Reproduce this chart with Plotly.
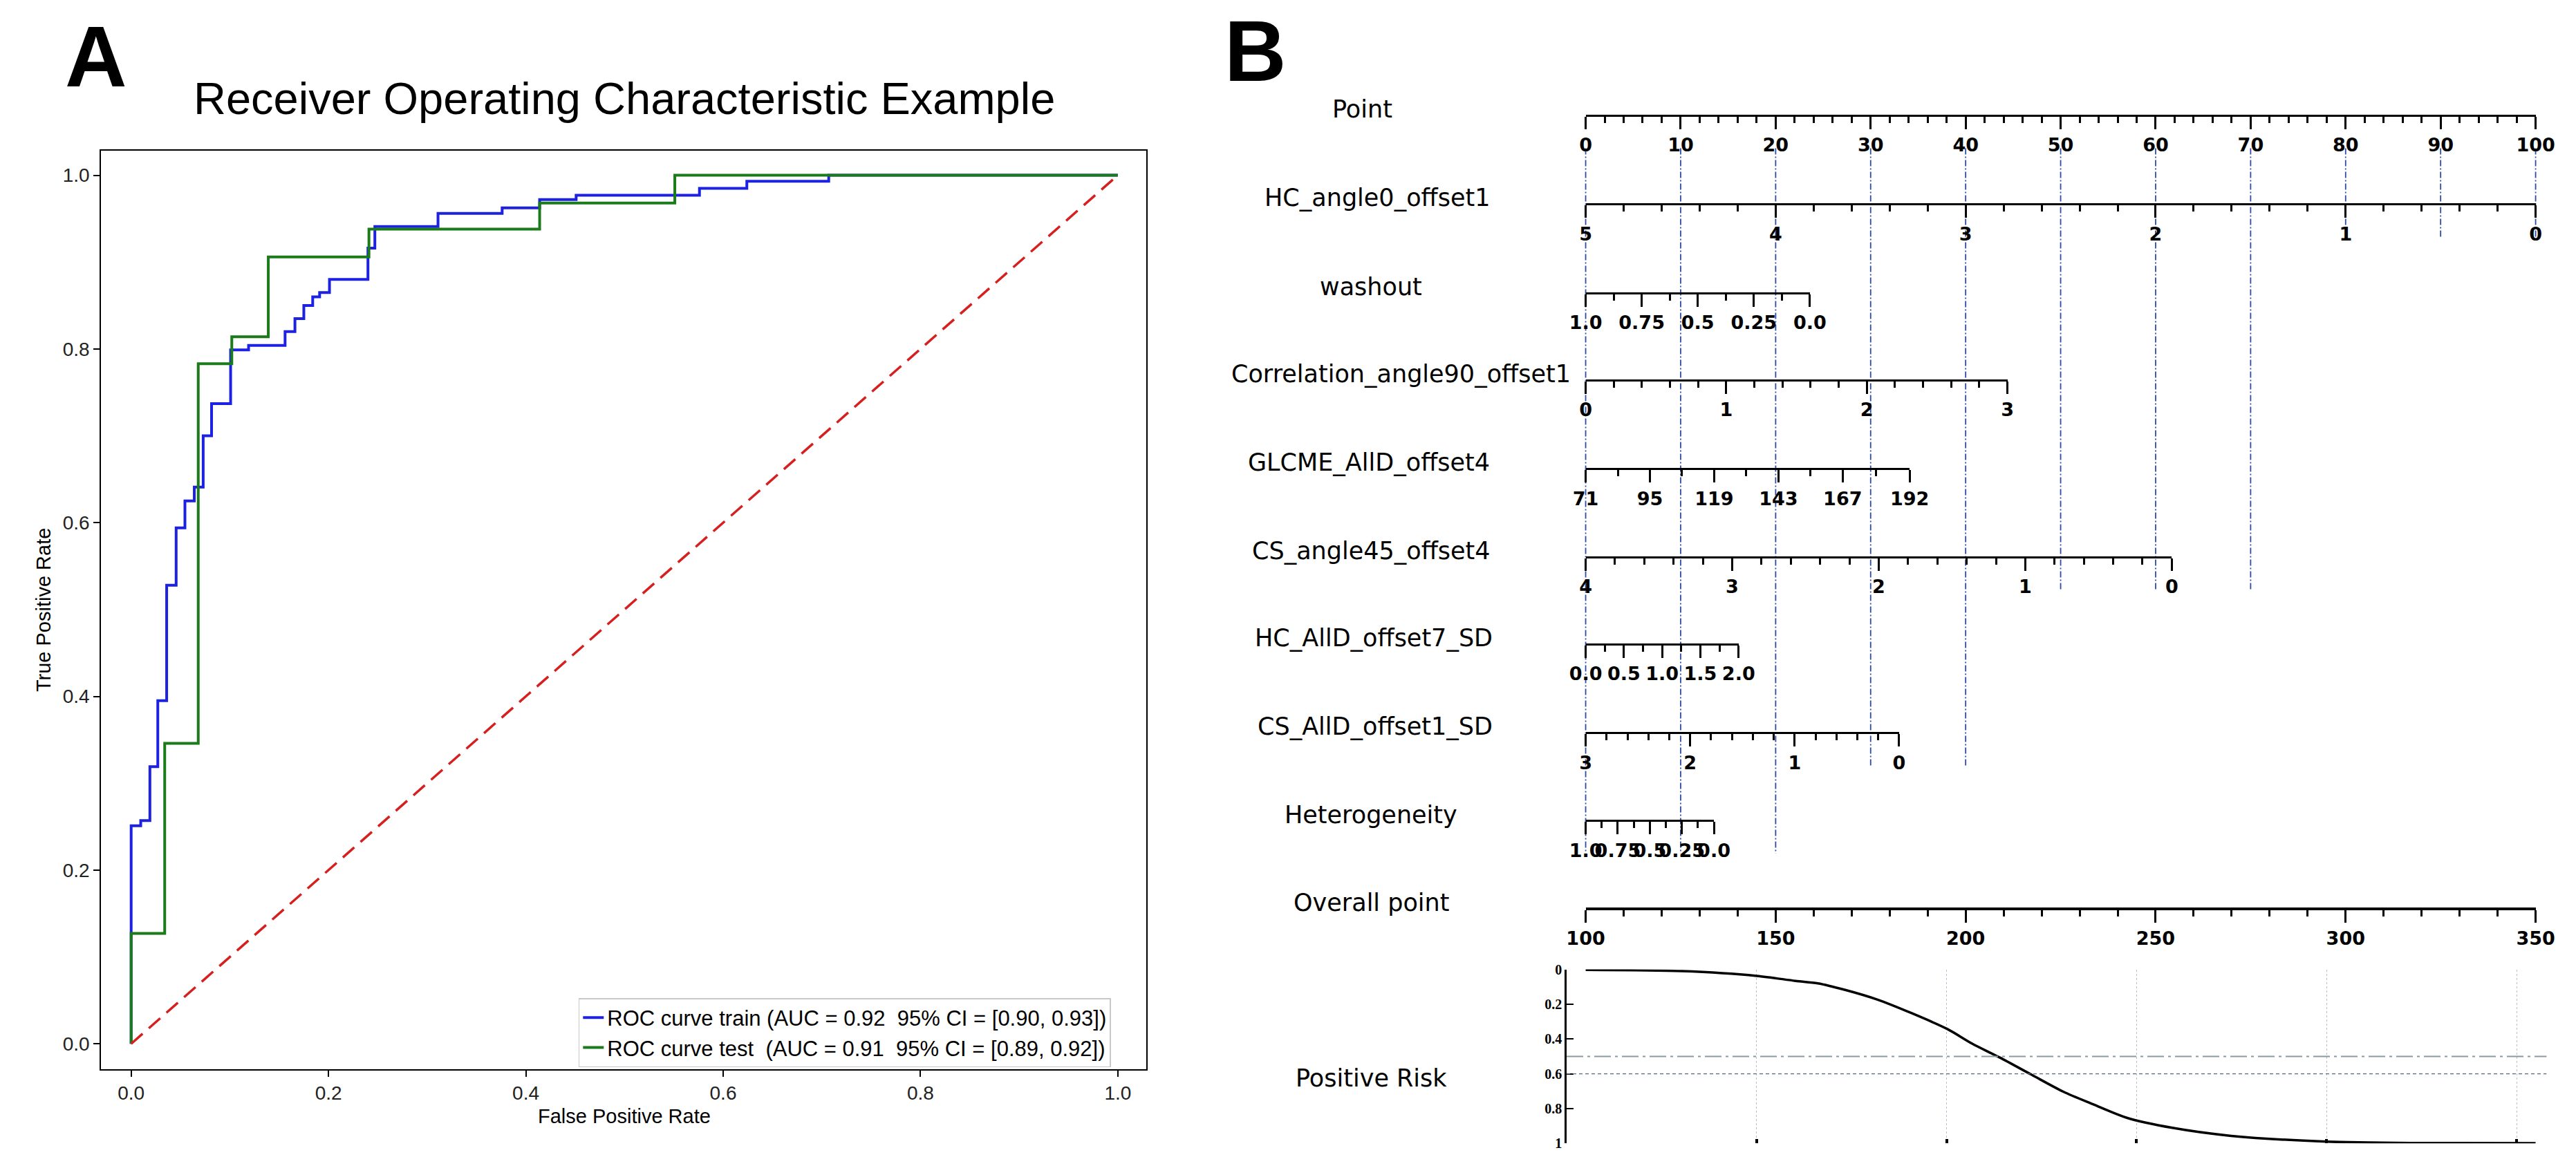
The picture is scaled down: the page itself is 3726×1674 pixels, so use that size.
import plotly.graph_objects as go

W, H = 3726, 1674  # canvas size in px


def px(x):
    return x / W


def py(y):
    return 1 - y / H


# =============================================================================
# PANEL A - ROC curves (corner points)
# =============================================================================
fpr_train = [0.0, 0.0, 0.0097, 0.019, 0.027, 0.036, 0.0456, 0.0545, 0.064, 0.073,
             0.0815, 0.1008, 0.119, 0.156, 0.166, 0.175, 0.184, 0.191, 0.201, 0.240,
             0.247, 0.311, 0.376, 0.414, 0.451, 0.576, 0.624, 0.707, 1.0]
tpr_train = [0.0, 0.251, 0.257, 0.319, 0.395, 0.528, 0.594, 0.625, 0.641, 0.700,
             0.737, 0.799, 0.804, 0.820, 0.835, 0.850, 0.860, 0.865, 0.880, 0.916,
             0.941, 0.956, 0.9625, 0.972, 0.977, 0.985, 0.993, 1.0, 1.0]
fpr_test = [0.0, 0.0, 0.034, 0.068, 0.102, 0.139, 0.241, 0.414, 0.551, 1.0]
tpr_test = [0.0, 0.127, 0.346, 0.783, 0.814, 0.906, 0.938, 0.968, 1.0, 1.0]

label_train = "ROC curve train (AUC = 0.92\u00a0 95% CI = [0.90, 0.93])"
label_test = "ROC curve test\u00a0 (AUC = 0.91\u00a0 95% CI = [0.89, 0.92])"
roc_ticks = [0.0, 0.2, 0.4, 0.6, 0.8, 1.0]

# =============================================================================
# PANEL B - nomogram
# =============================================================================
scale_names = ["Point", "HC_angle0_offset1", "washout", "Correlation_angle90_offset1",
               "GLCME_AllD_offset4", "CS_angle45_offset4", "HC_AllD_offset7_SD",
               "CS_AllD_offset1_SD", "Heterogeneity", "Overall point"]
scale_lo = [0, 5, 1.0, 0, 71, 4, 0.0, 3, 1.0, 100]      # value at 0 points
scale_hi = [100, 0, 0.0, 3, 192, 0, 2.0, 0, 0.0, 350]   # value at the far end
scale_pts = [100, 100, 23.6, 44.4, 34.1, 61.7, 16.1, 33.0, 13.5, 100]  # points at far end
scale_ticks = [
    [0, 10, 20, 30, 40, 50, 60, 70, 80, 90, 100],
    [5, 4, 3, 2, 1, 0],
    [1.0, 0.75, 0.5, 0.25, 0.0],
    [0, 1, 2, 3],
    [71, 95, 119, 143, 167, 192],
    [4, 3, 2, 1, 0],
    [0.0, 0.5, 1.0, 1.5, 2.0],
    [3, 2, 1, 0],
    [1.0, 0.75, 0.5, 0.25, 0.0],
    [100, 150, 200, 250, 300, 350],
]
scale_ticktext = [
    ["0", "10", "20", "30", "40", "50", "60", "70", "80", "90", "100"],
    ["5", "4", "3", "2", "1", "0"],
    ["1.0", "0.75", "0.5", "0.25", "0.0"],
    ["0", "1", "2", "3"],
    ["71", "95", "119", "143", "167", "192"],
    ["4", "3", "2", "1", "0"],
    ["0.0", "0.5", "1.0", "1.5", "2.0"],
    ["3", "2", "1", "0"],
    ["1.0", "0.75", "0.5", "0.25", "0.0"],
    ["100", "150", "200", "250", "300", "350"],
]
scale_minor_div = [5, 5, 2, 5, 2, 5, 2, 5, 2, 5]

# dash-dot guides from the Point scale down to the scale where they stop
guide_pts = [0, 10, 20, 30, 40, 50, 60, 70, 80, 90, 100]
guide_stop = ["Heterogeneity"] * 3 + ["CS_AllD_offset1_SD"] * 2 + \
             ["CS_angle45_offset4"] * 3 + ["HC_angle0_offset1"] * 3

# risk curve vs overall points
overall_pts = [100.0, 125.3, 145.0, 155.2, 161.1, 168.3, 176.7, 185.7, 195.2, 201.8,
               209.0, 217.3, 225.7, 233.5, 242.4, 254.4, 269.9, 295.0, 319.0, 350.0]
risk = [0.003, 0.01, 0.037, 0.066, 0.08, 0.118, 0.173, 0.251, 0.343, 0.428,
        0.507, 0.605, 0.703, 0.775, 0.853, 0.911, 0.957, 0.99, 0.998, 0.999]
risk_grid = [145, 195, 245, 295, 345]
risk_ticks = [0, 0.2, 0.4, 0.6, 0.8, 1.0]
risk_ticktext = ["0", "0.2", "0.4", "0.6", "0.8", "1"]
risk_cut_dashdot = 0.5
risk_cut_dot = 0.6

# ---- layout positions (px) ----
scale_row = [150, 280, 410, 538, 668, 797, 925, 1055, 1184, 1313]
scale_label_x = [1964, 1986, 1977, 2021, 1974, 1977, 1981, 1983, 1977, 1977]
PT0_PX, PT100_PX = 2292, 3687        # Point scale 0 and 100
NOMO_LEFT = 1751
RISK_X = (2264, 3703)
RISK_Y = (1402, 1657)
GUIDE_TOP = 198


def pt_to_px(p):
    return PT0_PX + p * (PT100_PX - PT0_PX) / 100.0


def px_to_pt(x):
    return (x - PT0_PX) * 100.0 / (PT100_PX - PT0_PX)


def px_to_overall(x):
    return scale_lo[-1] + px_to_pt(x) / 100.0 * (scale_hi[-1] - scale_lo[-1])


def minor_vals(ticks, div):
    out = []
    for a, b in zip(ticks[:-1], ticks[1:]):
        out += [a + (b - a) * k / div for k in range(1, div)]
    return out


fig = go.Figure()

# ---- panel A traces ----
fig.add_trace(go.Scatter(x=fpr_train, y=tpr_train, mode="lines", name=label_train,
                         line=dict(color="#1c22e0", width=4, shape="hv")))
fig.add_trace(go.Scatter(x=fpr_test, y=tpr_test, mode="lines", name=label_test,
                         line=dict(color="#1b7b1b", width=4, shape="hv")))
fig.add_trace(go.Scatter(x=[0, 1], y=[0, 1], mode="lines", showlegend=False,
                         hoverinfo="skip",
                         line=dict(color="#d62020", width=3.5, dash="22px,12px")))

# ---- panel B guide lines (x2 = points, y2 = px rows) ----
for p, stop in zip(guide_pts, guide_stop):
    y_end = scale_row[scale_names.index(stop)] + 48
    fig.add_trace(go.Scatter(x=[p, p], y=[GUIDE_TOP, y_end], xaxis="x2", yaxis="y2",
                             mode="lines", showlegend=False, hoverinfo="skip",
                             line=dict(color="rgba(35,65,160,0.95)", width=1.8,
                                       dash="9px,3px,2px,3px")))

layout_axes = {}
annotations = []

# ---- nomogram scales, each a free x axis ----
for i, name in enumerate(scale_names):
    k = i + 3
    fig.add_trace(go.Scatter(x=[scale_lo[i]], y=[scale_row[i]], xaxis="x%d" % k, yaxis="y2",
                             mode="markers", marker=dict(opacity=0), showlegend=False,
                             hoverinfo="skip"))
    layout_axes["xaxis%d" % k] = dict(
        domain=[px(PT0_PX), px(pt_to_px(scale_pts[i]))],
        range=[scale_lo[i], scale_hi[i]],
        anchor="free", position=py(scale_row[i]),
        showline=True, linecolor="black", linewidth=4 if i == len(scale_names) - 1 else 3,
        ticks="outside", ticklen=18, tickwidth=3, tickcolor="black",
        tickmode="array", tickvals=scale_ticks[i], ticktext=scale_ticktext[i],
        tickangle=0,
        tickfont=dict(family="DejaVu Sans", size=27, color="black", weight="bold"),
        minor=dict(ticks="outside", ticklen=9, tickwidth=2.5, tickcolor="black",
                   tickmode="array",
                   tickvals=minor_vals(scale_ticks[i], scale_minor_div[i])),
        showgrid=False, zeroline=False, fixedrange=True,
    )
    annotations.append(dict(text=name, x=px(scale_label_x[i]), y=py(scale_row[i] - 9),
                            xref="paper", yref="paper", showarrow=False,
                            xanchor="center", yanchor="middle",
                            font=dict(family="DejaVu Sans", size=35, color="black")))

annotations.append(dict(text="Positive Risk", x=px(1977), y=py(1562), xref="paper",
                        yref="paper", showarrow=False, xanchor="center", yanchor="middle",
                        font=dict(family="DejaVu Sans", size=35, color="black")))

# ---- risk panel ----
fig.add_trace(go.Scatter(x=overall_pts, y=risk, xaxis="x13", yaxis="y13", mode="lines",
                         showlegend=False, hoverinfo="skip",
                         line=dict(color="black", width=3.5, shape="spline", smoothing=0.8)))

shapes = [
    dict(type="line", xref="x13 domain", yref="y13", x0=0, x1=1,
         y0=risk_cut_dashdot, y1=risk_cut_dashdot,
         line=dict(color="#8a9aa2", width=2, dash="24px,6px,4px,6px")),
    dict(type="line", xref="x13 domain", yref="y13", x0=0, x1=1,
         y0=risk_cut_dot, y1=risk_cut_dot,
         line=dict(color="#5a6a7c", width=1.3, dash="5px,4px")),
]

# ---- titles / panel letters ----
annotations += [
    dict(text="Receiver Operating Characteristic Example", x=px(880), y=py(125),
         xref="paper", yref="paper", showarrow=False, xanchor="center", yanchor="middle",
         font=dict(family="Liberation Sans", size=65, color="black")),
    dict(text="False Positive Rate", x=px(880), y=py(1617), xref="paper", yref="paper",
         showarrow=False, xanchor="center", yanchor="middle",
         font=dict(family="Liberation Sans", size=29, color="black")),
    dict(text="True Positive Rate", x=px(27), y=py(875), xref="paper", yref="paper",
         showarrow=False, xanchor="center", yanchor="middle", textangle=-90,
         font=dict(family="Liberation Sans", size=29, color="black")),
    dict(text="<b>A</b>", x=px(105), y=py(64), xref="paper", yref="paper",
         showarrow=False, xanchor="center", yanchor="middle",
         font=dict(family="Liberation Sans", size=124, color="black")),
    dict(text="<b>B</b>", x=px(1807), y=py(56), xref="paper", yref="paper",
         showarrow=False, xanchor="center", yanchor="middle",
         font=dict(family="Liberation Sans Narrow, Liberation Sans", size=124, color="black")),
]

roc_tickfont = dict(family="Liberation Sans", size=28, color="#222222")

fig.update_layout(
    width=W, height=H,
    margin=dict(l=0, r=0, t=0, b=0),
    paper_bgcolor="white", plot_bgcolor="rgba(0,0,0,0)",
    xaxis=dict(domain=[px(112), px(1647)], range=[-0.0304, 1.029], anchor="y",
               showline=True, mirror=True, linecolor="black", linewidth=2,
               ticks="outside", ticklen=9, tickwidth=1.5, tickcolor="black",
               tickvals=roc_ticks, tickformat=".1f", tickfont=roc_tickfont,
               showgrid=False, zeroline=False),
    yaxis=dict(domain=[py(1548), py(202)], range=[-0.029, 1.028], anchor="x",
               showline=True, mirror=True, linecolor="black", linewidth=2,
               ticks="outside", ticklen=9, tickwidth=1.5, tickcolor="black",
               tickvals=roc_ticks, tickformat=".1f", tickfont=roc_tickfont,
               showgrid=False, zeroline=False),
    xaxis2=dict(domain=[px(NOMO_LEFT), 1], range=[px_to_pt(NOMO_LEFT), px_to_pt(W)],
                anchor="y2", visible=False, fixedrange=True),
    yaxis2=dict(domain=[0, 1], range=[H, 0], anchor="x2", visible=False, fixedrange=True),
    xaxis13=dict(domain=[px(RISK_X[0]), px(RISK_X[1])],
                 range=[px_to_overall(RISK_X[0]), px_to_overall(RISK_X[1])],
                 anchor="y13", showline=False, ticks="inside", ticklen=6, tickwidth=4,
                 tickcolor="black", tickmode="array", tickvals=risk_grid,
                 showticklabels=False, showgrid=True, gridcolor="#b4c0cc",
                 griddash="dot", gridwidth=1.2, zeroline=False),
    yaxis13=dict(domain=[py(RISK_Y[1]), py(RISK_Y[0])], range=[1, 0], anchor="x13",
                 showline=True, linecolor="black", linewidth=2.5,
                 ticks="inside", ticklen=10, tickwidth=2, tickcolor="black",
                 tickmode="array", tickvals=risk_ticks, ticktext=risk_ticktext,
                 tickfont=dict(family="Liberation Serif", size=20, color="black",
                               weight="bold"),
                 showgrid=False, zeroline=False),
    legend=dict(x=px(813), y=py(1444), xanchor="left", yanchor="top",
                bordercolor="#c8c8c8", borderwidth=1.5, bgcolor="rgba(255,255,255,0.9)",
                font=dict(family="Liberation Sans", size=31, color="black"),
                tracegroupgap=0),
    shapes=shapes,
    annotations=annotations,
    showlegend=True,
)
fig.update_layout(**layout_axes)

fig.write_html("out.html")
